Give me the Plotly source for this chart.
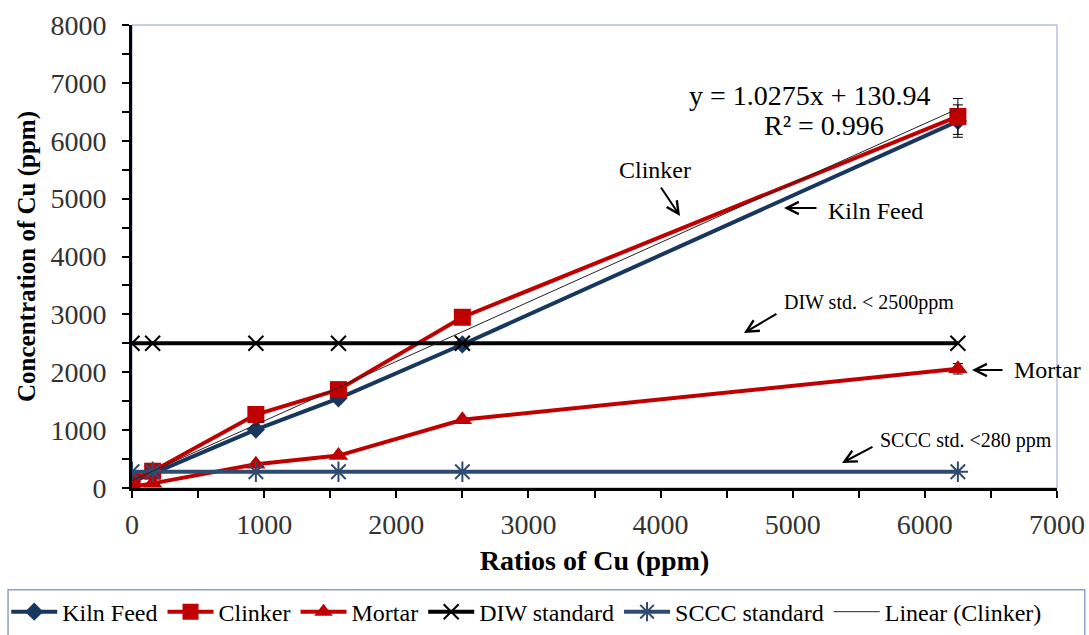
import plotly.graph_objects as go

# Cu ratios (ppm) used for every series
ratios = [0, 156.25, 937.5, 1562.5, 2500, 6250]

kiln_feed = [110, 250, 1010, 1550, 2480, 6340]
clinker = [150, 290, 1270, 1700, 2950, 6420]
mortar = [20, 80, 410, 560, 1180, 2060]
diw_standard = [2500, 2500, 2500, 2500, 2500, 2500]
sccc_standard = [280, 280, 280, 280, 280, 280]

kiln_feed_err = [0, 0, 0, 0, 0, 280]
clinker_err = [0, 0, 0, 0, 0, 310]
mortar_err = [0, 0, 0, 0, 0, 90]

# linear fit of the clinker series
slope, intercept = 1.0275, 130.94
r_squared = 0.996
fit_x = [0, 6250]
fit_y = [slope * v + intercept for v in fit_x]

NAVY = "#17375E"
RED = "#C00000"
STEEL = "#2F4B70"
FRAME = "#8EA3C2"
SERIF = "Times New Roman, Liberation Serif, DejaVu Serif, serif"

fig = go.Figure()


def err(arr):
    return dict(type="data", array=arr, visible=True, color="black", thickness=1, width=5)


fig.add_trace(go.Scatter(
    x=ratios, y=kiln_feed, name="Kiln Feed", mode="lines+markers",
    line=dict(color=NAVY, width=4),
    marker=dict(symbol="diamond", size=14, color=NAVY),
    error_y=err(kiln_feed_err),
))
fig.add_trace(go.Scatter(
    x=ratios, y=clinker, name="Clinker", mode="lines+markers",
    line=dict(color=RED, width=4),
    marker=dict(symbol="square", size=17, color=RED),
    error_y=err(clinker_err),
))
fig.add_trace(go.Scatter(
    x=ratios, y=mortar, name="Mortar", mode="lines+markers",
    line=dict(color=RED, width=4),
    marker=dict(symbol="triangle-up", size=17, color=RED),
    error_y=err(mortar_err),
))
fig.add_trace(go.Scatter(
    x=ratios, y=diw_standard, name="DIW standard", mode="lines+markers",
    line=dict(color="black", width=4),
    marker=dict(symbol="x-thin-open", size=15, color="black", line=dict(width=2, color="black")),
))
fig.add_trace(go.Scatter(
    x=ratios, y=sccc_standard, name="SCCC standard", mode="lines+markers",
    line=dict(color=STEEL, width=4),
    marker=dict(symbol="asterisk-open", size=17, color=STEEL, line=dict(width=2, color=STEEL)),
))
fig.add_trace(go.Scatter(
    x=fit_x, y=fit_y, name="Linear (Clinker)", mode="lines",
    line=dict(color="#222222", width=1),
))

# text labels and arrows pointing at the series
arrow_style = dict(showarrow=True, arrowhead=5, arrowsize=1.2, arrowwidth=2,
                   arrowcolor="black", xref="x", yref="y", text="")
arrows = [
    (4147, 4700, -20, -30),
    (4934, 4838, 34, 0),
    (4631, 2678, 34, -20),
    (6357, 2039, 32, 0),
    (5373, 432, 32, -17),
]
for tx, ty, ax, ay in arrows:
    fig.add_annotation(x=tx, y=ty, ax=ax, ay=ay, **arrow_style)

labels = [
    ("Clinker", 3958, 5495, "center", 24),
    ("Kiln Feed", 5252, 4786, "left", 24),
    ("DIW std. &lt; 2500ppm", 4919, 3197, "left", 20),
    ("Mortar", 6659, 2039, "left", 24),
    ("SCCC std. &lt;280 ppm", 5645, 829, "left", 20),
    (f"y = {slope}x + {intercept}", 5131, 6790, "center", 28),
    (f"R² = {r_squared}", 5240, 6255, "center", 28),
]
for txt, lx, ly, anchor, size in labels:
    fig.add_annotation(x=lx, y=ly, text=txt, showarrow=False, xanchor=anchor,
                       yanchor="middle", xref="x", yref="y",
                       font=dict(family=SERIF, size=size, color="black"))

# thin frame around the plot area and the legend box
fig.add_shape(type="rect", xref="paper", yref="paper", x0=0, y0=0, x1=1, y1=1,
              line=dict(color=FRAME, width=1), layer="below")
fig.add_shape(type="rect", xref="paper", yref="paper", x0=-0.134, y0=-0.22,
              x1=1.030, y1=-0.33, line=dict(color=FRAME, width=1.5), layer="below")

axis_common = dict(
    showgrid=False, zeroline=False, showline=True, linecolor="black", linewidth=3,
    ticks="outside", ticklen=7, tickwidth=2, tickcolor="black", automargin=False,
    minor=dict(dtick=500, ticks="outside", ticklen=7, tickwidth=2, tickcolor="black", showgrid=False),
)

fig.update_xaxes(
    range=[0, 7000], dtick=1000, tickfont=dict(family=SERIF, size=28, color="#333333"),
    ticklabelstandoff=2,
    title=dict(text="<b>Ratios of Cu (ppm)</b>", font=dict(family=SERIF, size=28, color="black"), standoff=12),
    **axis_common,
)
fig.update_yaxes(
    range=[0, 8000], dtick=1000, tickfont=dict(family=SERIF, size=28, color="#333333"),
    ticklabelstandoff=10,
    title=dict(text="<b>Concentration of Cu (ppm)</b>", font=dict(family=SERIF, size=25, color="black"), standoff=8),
    **axis_common,
)

fig.update_layout(
    width=1089, height=635,
    margin=dict(l=132, r=32, t=25, b=147, autoexpand=False),
    plot_bgcolor="white", paper_bgcolor="white",
    showlegend=True,
    legend=dict(orientation="h", x=-0.136, y=-0.268, xanchor="left", yanchor="middle",
                font=dict(family=SERIF, size=24, color="black"),
                bgcolor="rgba(0,0,0,0)", itemwidth=46, tracegroupgap=0),
)

fig.write_html("out.html")
